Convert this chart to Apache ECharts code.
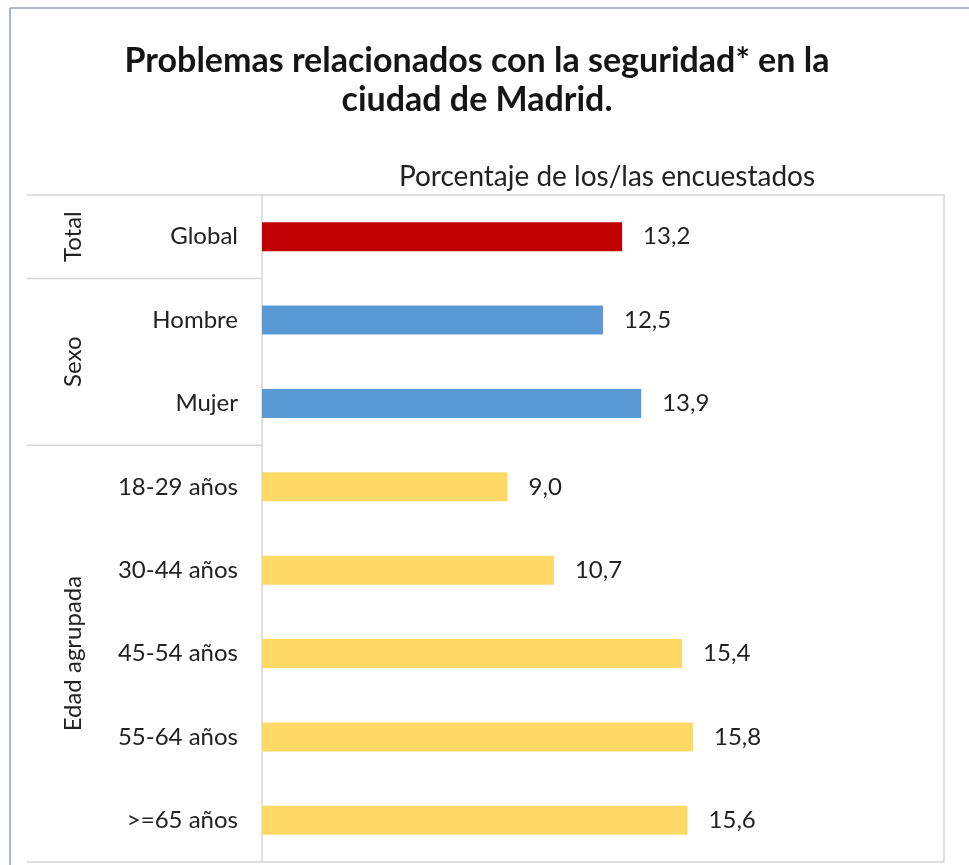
<!DOCTYPE html>
<html>
<head>
<meta charset="utf-8">
<script src="https://cdn.jsdelivr.net/npm/echarts@6/dist/echarts.min.js"></script>
<style>
  html, body { margin: 0; padding: 0; background: #fff; }
  #main { width: 969px; height: 865px; }
</style>
</head>
<body>
<div id="main"></div>
<script>
// datos
var categorias = ['Global', 'Hombre', 'Mujer', '18-29 años', '30-44 años', '45-54 años', '55-64 años', '>=65 años'];
var valores = [13.2, 12.5, 13.9, 9.0, 10.7, 15.4, 15.8, 15.6];
var grupos = ['Total', 'Sexo', 'Edad agrupada'];
var tamGrupos = [1, 2, 5];
var coloresGrupo = ['#C00000', '#5B9BD5', '#FFD966'];

var fuente = 'Lato, "Open Sans", sans-serif';

// color de cada barra segun su grupo
var datosBarras = [];
var k = 0;
for (var g = 0; g < grupos.length; g++) {
    for (var j = 0; j < tamGrupos[g]; j++) {
        datosBarras.push({ value: valores[k], itemStyle: { color: coloresGrupo[g] } });
        k++;
    }
}

var chart = echarts.init(document.getElementById('main'));

var option = {
    backgroundColor: '#fff',
    animation: false,
    title: [{
        text: 'Problemas relacionados con la seguridad* en la\nciudad de Madrid.',
        left: 472, top: 37, textAlign: 'center',
        textStyle: { fontFamily: fuente, fontSize: 34, fontWeight: 'bold', color: '#151515', lineHeight: 39 }
    }, {
        text: 'Porcentaje de los/las encuestados',
        left: 602, top: 158, textAlign: 'center',
        textStyle: { fontFamily: fuente, fontSize: 28, fontWeight: 'normal', color: '#222' }
    }],
    grid: {
        left: 262, right: 25, top: 195, bottom: 3,
        show: true, borderColor: '#d6d6d6', borderWidth: 1.5
    },
    xAxis: {
        type: 'value', min: 0, max: 25,
        axisLabel: { show: false }, axisLine: { show: false },
        axisTick: { show: false }, splitLine: { show: false }
    },
    yAxis: {
        type: 'category', data: categorias, inverse: true,
        axisLine: { show: false }, axisTick: { show: false },
        axisLabel: { margin: 24, fontFamily: fuente, fontSize: 24, color: '#222' }
    },
    series: [{
        type: 'bar',
        data: datosBarras,
        barWidth: 29,
        label: {
            show: true, position: 'right', distance: 21,
            fontFamily: fuente, fontSize: 24, color: '#222',
            formatter: function (p) { return p.value.toFixed(1).replace('.', ','); }
        }
    }]
};
chart.setOption(option);

// separadores de grupos y etiquetas verticales, a partir de la escala del eje
var elems = [];
elems.push({ type: 'line', shape: { x1: 10, y1: 8, x2: 969, y2: 8 }, style: { stroke: '#aab8c9', lineWidth: 2 } });
elems.push({ type: 'line', shape: { x1: 10, y1: 8, x2: 10, y2: 865 }, style: { stroke: '#aab8c9', lineWidth: 2 } });
var y0 = chart.convertToPixel({ yAxisIndex: 0 }, categorias[0]);
var y1 = chart.convertToPixel({ yAxisIndex: 0 }, categorias[1]);
var banda = y1 - y0;
var idx = 0;
for (var g2 = 0; g2 < grupos.length; g2++) {
    var arriba = chart.convertToPixel({ yAxisIndex: 0 }, categorias[idx]) - banda / 2;
    var abajo = arriba + banda * tamGrupos[g2];
    elems.push({ type: 'line', shape: { x1: 27, y1: arriba, x2: 262, y2: arriba }, style: { stroke: '#d6d6d6', lineWidth: 1.5 } });
    elems.push({
        type: 'text', x: 73, y: (arriba + abajo) / 2, rotation: Math.PI / 2,
        style: { text: grupos[g2], fontFamily: fuente, fontSize: 24, fill: '#222', align: 'center', verticalAlign: 'middle' }
    });
    idx += tamGrupos[g2];
    if (g2 === grupos.length - 1) {
        elems.push({ type: 'line', shape: { x1: 27, y1: abajo, x2: 262, y2: abajo }, style: { stroke: '#d6d6d6', lineWidth: 1.5 } });
    }
}
chart.setOption({ graphic: elems });
</script>
</body>
</html>
